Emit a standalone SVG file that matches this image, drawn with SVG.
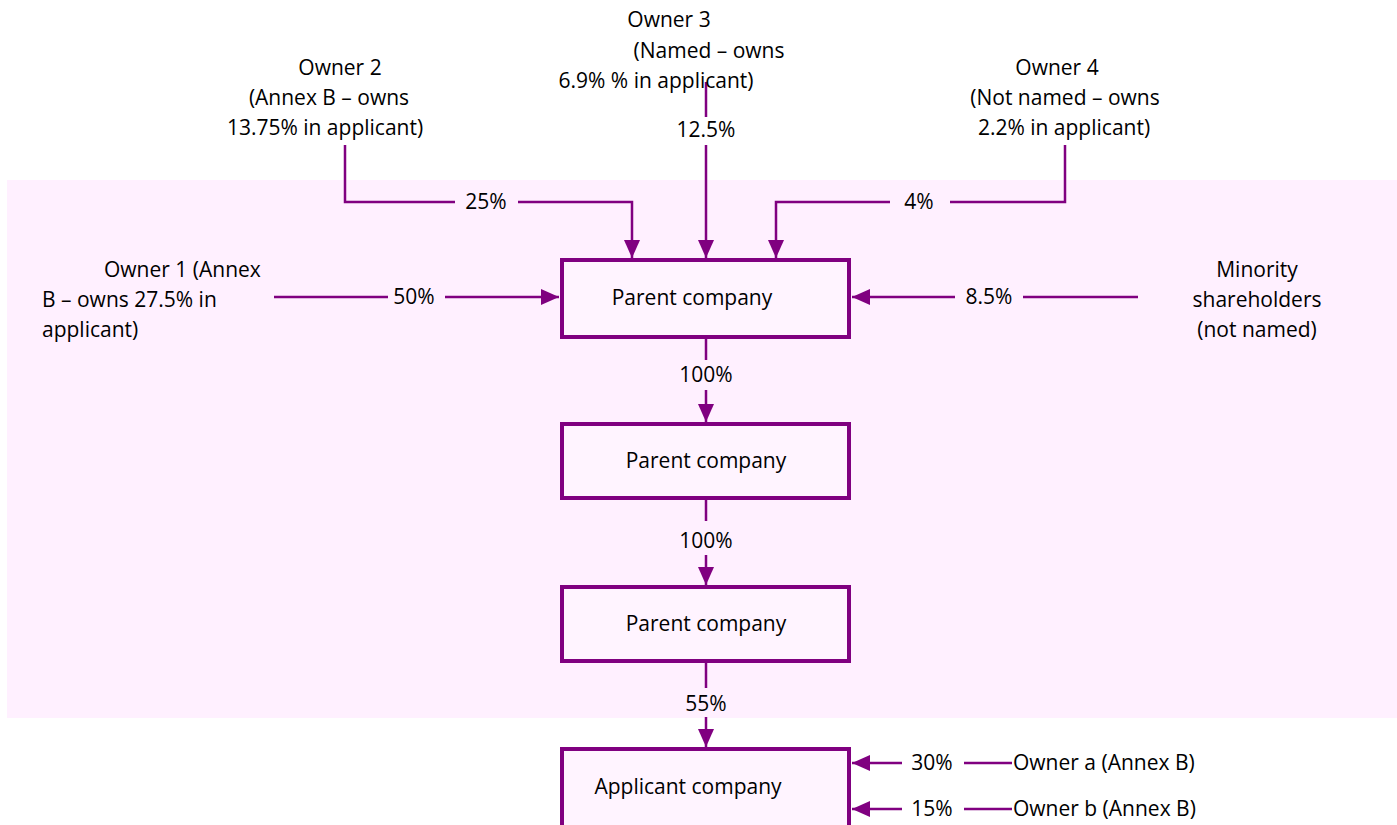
<svg xmlns="http://www.w3.org/2000/svg" width="1397" height="825" viewBox="0 0 1397 825">
<style>
text{font-family:"Open Sans","Noto Sans","Liberation Sans",sans-serif;font-size:21px;fill:#000}
.m{text-anchor:middle}
.box{fill:#FFF4FF;stroke:#800080;stroke-width:4}
.c{fill:none;stroke:#800080;stroke-width:2.5}
</style>
<defs>
<marker id="arr" viewBox="0 0 18 16" refX="18" refY="8" markerWidth="18" markerHeight="16" orient="auto" markerUnits="userSpaceOnUse">
<path d="M0,0 L18,8 L0,16 Z" fill="#800080"/>
</marker>
</defs>
<rect x="0" y="0" width="1397" height="825" fill="#fff"/>
<rect x="7" y="180" width="1390" height="538" fill="#FFF0FF"/>

<g id="connectors">
<path class="c" d="M345,145 V202 H455"/>
<path class="c" d="M518,202 H632 V258" marker-end="url(#arr)"/>
<text class="m" x="486" y="209">25%</text>
<path class="c" d="M706,82 V117"/>
<path class="c" d="M706,145 V258" marker-end="url(#arr)"/>
<text class="m" x="706" y="137">12.5%</text>
<path class="c" d="M1065,145 V202 H950"/>
<path class="c" d="M890,202 H776 V258" marker-end="url(#arr)"/>
<text class="m" x="919" y="209">4%</text>
<path class="c" d="M274,297 H388"/>
<path class="c" d="M445,297 H559" marker-end="url(#arr)"/>
<text class="m" x="414" y="304">50%</text>
<path class="c" d="M1138,297 H1023"/>
<path class="c" d="M955,297 H852" marker-end="url(#arr)"/>
<text class="m" x="989" y="304">8.5%</text>
<path class="c" d="M706,338 V360"/>
<path class="c" d="M706,390 V422" marker-end="url(#arr)"/>
<text class="m" x="706" y="382">100%</text>
<path class="c" d="M706,499 V521"/>
<path class="c" d="M706,555 V585" marker-end="url(#arr)"/>
<text class="m" x="706" y="548">100%</text>
<path class="c" d="M706,663 V688"/>
<path class="c" d="M706,717 V747" marker-end="url(#arr)"/>
<text class="m" x="706" y="711">55%</text>
<path class="c" d="M1012,763 H964"/>
<path class="c" d="M902,763 H852" marker-end="url(#arr)"/>
<text class="m" x="932" y="770">30%</text>
<path class="c" d="M1012,809 H964"/>
<path class="c" d="M902,809 H852" marker-end="url(#arr)"/>
<text class="m" x="932" y="816">15%</text>
</g>

<g id="owner1">
<text x="104" y="277">Owner 1 (Annex</text>
<text x="42" y="307">B – owns 27.5% in</text>
<text x="42" y="337">applicant)</text>
</g>
<g id="owner2">
<text class="m" x="340" y="75">Owner 2</text>
<text class="m" x="329" y="105">(Annex B – owns</text>
<text class="m" x="325" y="135">13.75% in applicant)</text>
</g>
<g id="owner3">
<text class="m" x="669" y="27">Owner 3</text>
<text class="m" x="709" y="58">(Named – owns</text>
<text class="m" x="656" y="88">6.9% % in applicant)</text>
</g>
<g id="owner4">
<text class="m" x="1057" y="75">Owner 4</text>
<text class="m" x="1065" y="105">(Not named – owns</text>
<text class="m" x="1064" y="135">2.2% in applicant)</text>
</g>
<g id="minority">
<text class="m" x="1257" y="277">Minority</text>
<text class="m" x="1257" y="307">shareholders</text>
<text class="m" x="1257" y="337">(not named)</text>
</g>
<g id="parent1">
<rect class="box" x="562" y="260" width="287" height="77"/>
<text class="m" x="692" y="305">Parent company</text>
</g>
<g id="parent2">
<rect class="box" x="562" y="424" width="287" height="74"/>
<text class="m" x="706" y="468">Parent company</text>
</g>
<g id="parent3">
<rect class="box" x="562" y="587" width="287" height="74"/>
<text class="m" x="706" y="631">Parent company</text>
</g>
<g id="applicant">
<rect class="box" x="562" y="749" width="287" height="80"/>
<text class="m" x="688" y="794">Applicant company</text>
</g>
<g id="ownerA"><text x="1013" y="770">Owner a (Annex B)</text></g>
<g id="ownerB"><text x="1013" y="816">Owner b (Annex B)</text></g>
</svg>
